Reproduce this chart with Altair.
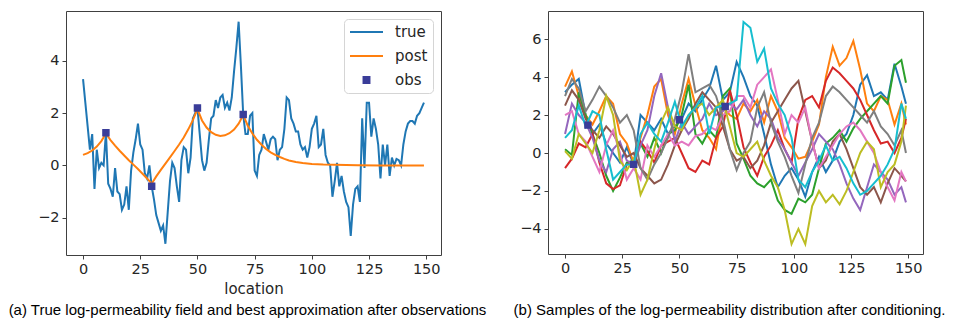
import altair as alt
import pandas as pd

# ---------------- data ----------------
true_x = list(range(150))
true_y = [3.3, 2.4, 1.5, 0.6, 1.2, -0.9, 0.6, -0.1, 0.1, 0.0,
          1.25, -0.7, -0.9, -1.2, -0.1, -1.0, -1.1, -1.7, -1.5, -0.8,
          -1.7, -0.2, 0.5, 1.0, 1.6, 0.8, 0.6, -0.3, -0.5, 0.0,
          -0.8, -1.3, -1.9, -2.2, -2.5, -2.3, -3.0, -1.8, -0.6, 0.1,
          -0.1, -0.8, -1.4, 0.2, 0.7, 0.6, -0.3, 0.3, 1.8, 2.0,
          2.2, 1.2, 0.2, -0.2, 0.1, 1.0, 1.8, 1.9, 2.5, 2.2,
          2.6, 2.7, 2.2, 2.4, 2.1, 2.6, 3.6, 4.5, 5.5, 3.8,
          1.95, 1.2, 1.2, 1.9, 2.0, -0.2, -0.4, 0.4, 0.6, 1.2,
          0.9, 0.6, 1.0, 1.1, 1.0, 0.2, 0.6, 0.7, 1.4, 2.6,
          2.5, 1.8, 1.6, 1.3, 1.3, 0.8, 0.6, 0.7, 0.3, 0.7,
          1.4, 1.6, 1.9, 0.7, 0.8, 1.4, 0.4, 0.1, 0.0, -1.2,
          -0.6, 0.1, -0.8, -0.4, -1.0, -1.4, -1.6, -2.7, -1.5, -0.9,
          -0.8, -1.4, 1.8, -0.1, 2.4, 2.4, 1.1, 1.8, 1.4, 0.8,
          -0.5, 0.8, 0.0, 0.8, -0.4, 0.3, 0.0, 0.25, 0.2, 0.0,
          0.8, 1.3, 1.6, 1.7, 1.7, 1.6, 1.9, 2.0, 2.2, 2.4]

post_x = [0, 2, 4, 6, 8, 10, 12, 14, 16, 18, 20, 22, 24, 26, 28, 30,
          32, 34, 36, 38, 40, 42, 44, 46, 48, 50, 52, 54, 56, 58, 60,
          62, 64, 66, 68, 70, 72, 74, 76, 78, 80, 82, 84, 86, 88, 90,
          93, 96, 100, 105, 110, 120, 130, 140, 149]
post_y = [0.40, 0.47, 0.57, 0.72, 0.93, 1.22,
          0.97, 0.76, 0.56, 0.38, 0.20, 0.03, -0.14, -0.32, -0.50, -0.70,
          -0.42, -0.17, 0.07, 0.31, 0.55, 0.80, 1.07, 1.38, 1.73, 2.15,
          1.72, 1.45, 1.27, 1.17, 1.13, 1.15, 1.23, 1.37, 1.60, 1.93,
          1.52, 1.22, 0.98, 0.79, 0.63, 0.50, 0.40, 0.32, 0.25, 0.19,
          0.13, 0.09, 0.05, 0.03, 0.02, 0.01, 0.0, 0.0, 0.0]

obs_x = [10, 30, 50, 70]
obs_left_y = [1.25, -0.8, 2.2, 1.95]
obs_right_y = [1.47, -0.6, 1.75, 2.45]

sample_x = list(range(0, 150, 3)) + [149]
s_blue = [3.2, 3.6, 3.9, 2.0, 1.0, 1.5, 0.5, 0.0, -0.5, 0.3,
          -0.6, 2.0, 1.6, 1.2, 1.8, 1.0, 1.4, 1.8, 2.6, 2.2,
          2.8, 3.4, 4.6, 2.8, 3.2, 4.8, 4.0, 3.0, 2.5, 1.0,
          -0.6, -1.8, -1.2, -0.8, -1.4, -2.3, -1.0, -0.2, -1.0, -0.4,
          0.6, 1.0, 2.0, 3.6, 4.1, 3.0, 3.2, 2.8, 4.7, 3.5, 2.6]
s_orange = [3.5, 4.3, 3.0, 2.0, 1.5, 2.2, 3.0, 2.6, 1.0, 0.5,
            -0.5, 0.8, 2.0, 3.5, 3.9, 2.0, 1.0, 2.6, 3.9, 2.5,
            1.2, 0.8, 0.2, 2.4, 2.0, 1.8, 2.6, 2.2, 2.8, 1.6,
            3.0, 2.2, 0.8, 0.3, -0.3, -0.2, 0.6, 1.5, 4.0, 5.6,
            4.6, 5.0, 5.9, 4.4, 2.6, 2.2, 3.0, 2.8, 1.5, 2.6, 1.5]
s_green = [0.2, -0.1, 3.2, 2.0, 1.0, 0.0, -1.2, -2.0, -1.3, -0.5,
           -0.4, 0.5, -0.2, 0.8, 0.0, 1.0, 1.2, 2.0, 3.6, 1.0,
           0.5, 1.2, 0.8, 3.0, 3.4, 0.5, -0.3, -1.2, -1.6, -1.8,
           -1.4, -2.5, -3.0, -3.2, -2.4, -2.6, -2.2, -0.8, 0.5, 0.8,
           1.2, 0.6, 1.3, 1.8, 2.2, 2.6, 3.0, 2.6, 4.6, 4.9, 3.7]
s_red = [-0.8, -0.3, 0.5, 0.3, 1.0, -0.5, -1.6, -1.9, -1.7, -0.6,
         -0.5, 0.6, 0.1, -0.5, 0.4, 0.6, 0.8, 0.0, -0.8, -1.0,
         -0.4, -0.6, 0.8, 1.4, 3.3, 2.0, 0.3, -0.5, -1.2, -0.2,
         0.4, 1.2, 0.2, -0.5, 1.8, 2.8, 3.0, 2.4, 3.8, 4.5,
         4.2, 3.8, 3.4, 2.8, 2.0, 1.2, 0.5, 0.6, 0.0, 0.8, 1.8]
s_purple = [1.0, 2.6, 2.0, 1.6, 0.8, -0.4, -1.0, 0.2, 0.6, -0.4,
            -0.6, 0.4, 1.2, 3.0, 4.2, 2.4, 0.6, 1.6, 1.0, 1.4,
            1.8, 2.6, 2.0, 2.2, 2.6, 2.3, 2.8, 2.0, 1.4, 2.2,
            1.8, 0.8, 0.2, -0.5, -1.2, -0.5, 0.2, 1.0, 0.6, 0.2,
            -0.6, -1.6, -2.4, -3.0, -1.8, -0.6, -1.0, -1.4, -2.2, -1.8, -2.6]
s_brown = [2.5, 3.3, 2.8, 1.8, 1.2, 0.8, 1.4, 1.0, 0.4, -0.2,
           0.0, -0.8, -1.2, -1.6, -1.4, -0.6, 0.4, 1.2, 1.8, 2.6,
           3.2, 2.8, 2.4, 1.4, 0.2, -0.4, -0.2, -0.8, -0.4, 0.4,
           1.6, 2.2, 2.8, 3.4, 3.8, 2.2, 0.6, -0.8, -0.4, 0.6,
           1.0, 0.2, -0.8, -1.8, -2.2, -1.8, -2.6, -1.6, -0.8, -1.2, -1.5]
s_pink = [2.0, 2.2, 1.0, 0.6, -0.2, -1.0, 0.4, 1.2, 0.0, -1.4,
          -0.8, -1.4, 0.4, -0.2, 0.4, 1.0, 0.4, 0.6, 0.4, 0.9,
          1.0, 1.4, 1.2, 2.0, 2.2, 3.0, 3.0, 2.4, 3.6, 4.0,
          4.4, 2.8, 1.0, 2.0, 1.6, 2.4, 0.6, -0.8, -0.2, 0.4,
          1.0, 1.4, 1.6, 1.2, 0.6, 0.0, -1.0, -1.8, -2.5, -1.0, -1.5]
s_gray = [3.0, 3.9, 3.4, 2.2, 2.8, 3.5, 3.0, 2.4, 1.6, 2.0,
          1.2, -0.8, -1.4, -0.6, 0.0, 0.8, 1.8, 3.2, 5.2, 3.2,
          3.4, 3.6, 3.0, 1.8, 0.2, -0.9, 0.0, 0.6, 2.4, 3.2,
          1.6, 0.6, -0.2, -1.2, -2.1, -0.6, 0.8, 1.6, 3.0, 3.5,
          3.2, 2.8, 2.4, 2.0, 1.6, 2.2, 1.4, 1.0, 0.4, 1.2, 0.0]
s_olive = [0.1, -0.3, 1.0, 0.5, 0.0, 1.2, 3.0, 2.0, -0.4, -0.9,
           -0.3, -2.2, -1.4, 0.2, 1.6, 2.4, 1.4, 1.2, 2.0, 2.4,
           2.6, 2.0, 2.4, 2.8, 1.4, 0.0, -0.2, 0.2, 0.6, -0.4,
           -1.2, -1.8, -3.0, -4.8, -4.0, -4.8, -2.8, -2.0, -2.6, -2.2,
           -2.7, -2.0, -1.0, 0.0, 0.6, 0.2, -1.8, -1.0, -0.6, 0.6, 2.5]
s_cyan = [0.8, 1.2, 2.5, 1.4, 2.2, 2.0, 0.2, -1.4, -1.0, -0.6,
          -0.6, 1.0, 1.6, 1.0, 0.6, 1.6, 2.7, 1.4, 2.0, 2.4,
          3.0, 1.0, 2.4, 2.5, 2.6, 2.8, 6.9, 6.6, 4.8, 5.5,
          3.4, 2.6, 2.0, 0.8, -1.4, -1.8, -1.0, -0.4, 0.4, -0.4,
          -0.2, -0.8, -1.6, -2.2, -2.0, -1.6, -1.2, -0.6, 0.2, 2.6, 1.8]

x_ticks = [0, 25, 50, 75, 100, 125, 150]
left_y_ticks = [-2, 0, 2, 4]
right_y_ticks = [-4, -2, 0, 2, 4, 6]
series_names = ["true", "post", "obs"]
caption_a = "(a) True log-permeability field and best approximation after observations"
caption_b = "(b) Samples of the log-permeability distribution after conditioning."

# ---------------- styles ----------------
OBS_COLOR = "#3a3d99"
series_colors = ["#1f77b4", "#ff7f0e", OBS_COLOR]
tab10 = ["#1f77b4", "#ff7f0e", "#2ca02c", "#d62728", "#9467bd",
         "#8c564b", "#e377c2", "#7f7f7f", "#bcbd22", "#17becf"]
SQUARE = "M-0.18,-0.18H0.18V0.18H-0.18Z"
TXT = "#262626"

# ---------------- tables ----------------
df_true = pd.DataFrame({"x": true_x, "y": true_y, "series": "true"})
df_post = pd.DataFrame({"x": post_x, "y": post_y, "series": "post"})
df_obs_l = pd.DataFrame({"x": obs_x, "y": obs_left_y, "series": "obs"})
samples = [s_blue, s_orange, s_green, s_red, s_purple,
           s_brown, s_pink, s_gray, s_olive, s_cyan]
sample_names = [f"sample {i}" for i in range(len(samples))]
df_s = pd.concat([pd.DataFrame({"x": sample_x, "y": s, "sample": n})
                  for s, n in zip(samples, sample_names)], ignore_index=True)
df_obs_r = pd.DataFrame({"x": obs_x, "y": obs_right_y})

# ---------------- left panel ----------------
xl = alt.X("x:Q", scale=alt.Scale(domain=[-7.45, 156.45], nice=False, zero=False),
           axis=alt.Axis(values=x_ticks, title="location"))
yl = alt.Y("y:Q", scale=alt.Scale(domain=[-3.43, 5.91], nice=False, zero=False),
           axis=alt.Axis(values=left_y_ticks, title=None))

leg = alt.Legend(title=None, orient="top-right", offset=8, padding=5,
                 cornerRadius=4, strokeColor="#d5d5d5", fillColor="#ffffff",
                 labelFont="DejaVu Sans", labelFontSize=15, labelColor=TXT,
                 labelOffset=11, symbolSize=1089, symbolStrokeWidth=2,
                 clipHeight=16, rowPadding=8, symbolOpacity=1)

stroke_enc = alt.Stroke("series:N", scale=alt.Scale(domain=series_names, range=series_colors), legend=leg)
fill_enc = alt.Fill("series:N", scale=alt.Scale(domain=series_names, range=series_colors), legend=leg)
shape_enc = alt.Shape("series:N", scale=alt.Scale(domain=series_names, range=["stroke", "stroke", SQUARE]), legend=leg)

true_line = alt.Chart(df_true).mark_line(strokeWidth=2).encode(x=xl, y=yl, stroke=stroke_enc)
post_line = alt.Chart(df_post).mark_line(strokeWidth=2).encode(x=xl, y=yl, stroke=stroke_enc)
obs_pts = alt.Chart(df_obs_l).mark_point(filled=True, size=1089, strokeWidth=1.5, opacity=1).encode(
    x=xl, y=yl, stroke=stroke_enc, fill=fill_enc, shape=shape_enc)

left = alt.layer(true_line, post_line, obs_pts).properties(
    width=375, height=244,
    title=alt.TitleParams(caption_a, orient="bottom", anchor="middle", dx=-6, offset=6,
                          font="Liberation Sans", fontSize=15, fontWeight="normal", color="#000000"))

# ---------------- right panel ----------------
xr = alt.X("x:Q", scale=alt.Scale(domain=[-7.45, 156.45], nice=False, zero=False),
           axis=alt.Axis(values=x_ticks, title=None))
yr = alt.Y("y:Q", scale=alt.Scale(domain=[-5.32, 7.48], nice=False, zero=False),
           axis=alt.Axis(values=right_y_ticks, title=None))

lines = alt.Chart(df_s).mark_line(strokeWidth=2).encode(
    x=xr, y=yr,
    color=alt.Color("sample:N", scale=alt.Scale(domain=sample_names, range=tab10), legend=None))
obs_r = alt.Chart(df_obs_r).mark_point(filled=True, shape=SQUARE, size=1089, fill=OBS_COLOR,
                                       stroke=OBS_COLOR, strokeWidth=1.5, opacity=1).encode(x=xr, y=yr)

right = alt.layer(lines, obs_r).properties(
    width=375, height=243,
    title=alt.TitleParams(caption_b, orient="bottom", anchor="middle", dx=-6, offset=28,
                          font="Liberation Sans", fontSize=15, fontWeight="normal", color="#000000"))

chart = alt.hconcat(left, right, spacing=107, bounds="flush").resolve_scale(
    stroke="independent", fill="independent", shape="independent", color="independent"
).properties(
    padding={"left": 7, "right": 1, "top": 10, "bottom": 2}
).configure_view(stroke="#404040", strokeWidth=1).configure_axis(
    domain=False, grid=False, ticks=True, tickSize=4, tickWidth=1, tickColor="#404040",
    labelFont="DejaVu Sans", labelFontSize=14.5, labelColor=TXT, labelPadding=3,
    labelFlush=False, titleFont="DejaVu Sans", titleFontSize=15,
    titleFontWeight="normal", titleColor=TXT, titlePadding=6)

chart.save("out.html", embed_options={"renderer": "svg", "actions": False})
